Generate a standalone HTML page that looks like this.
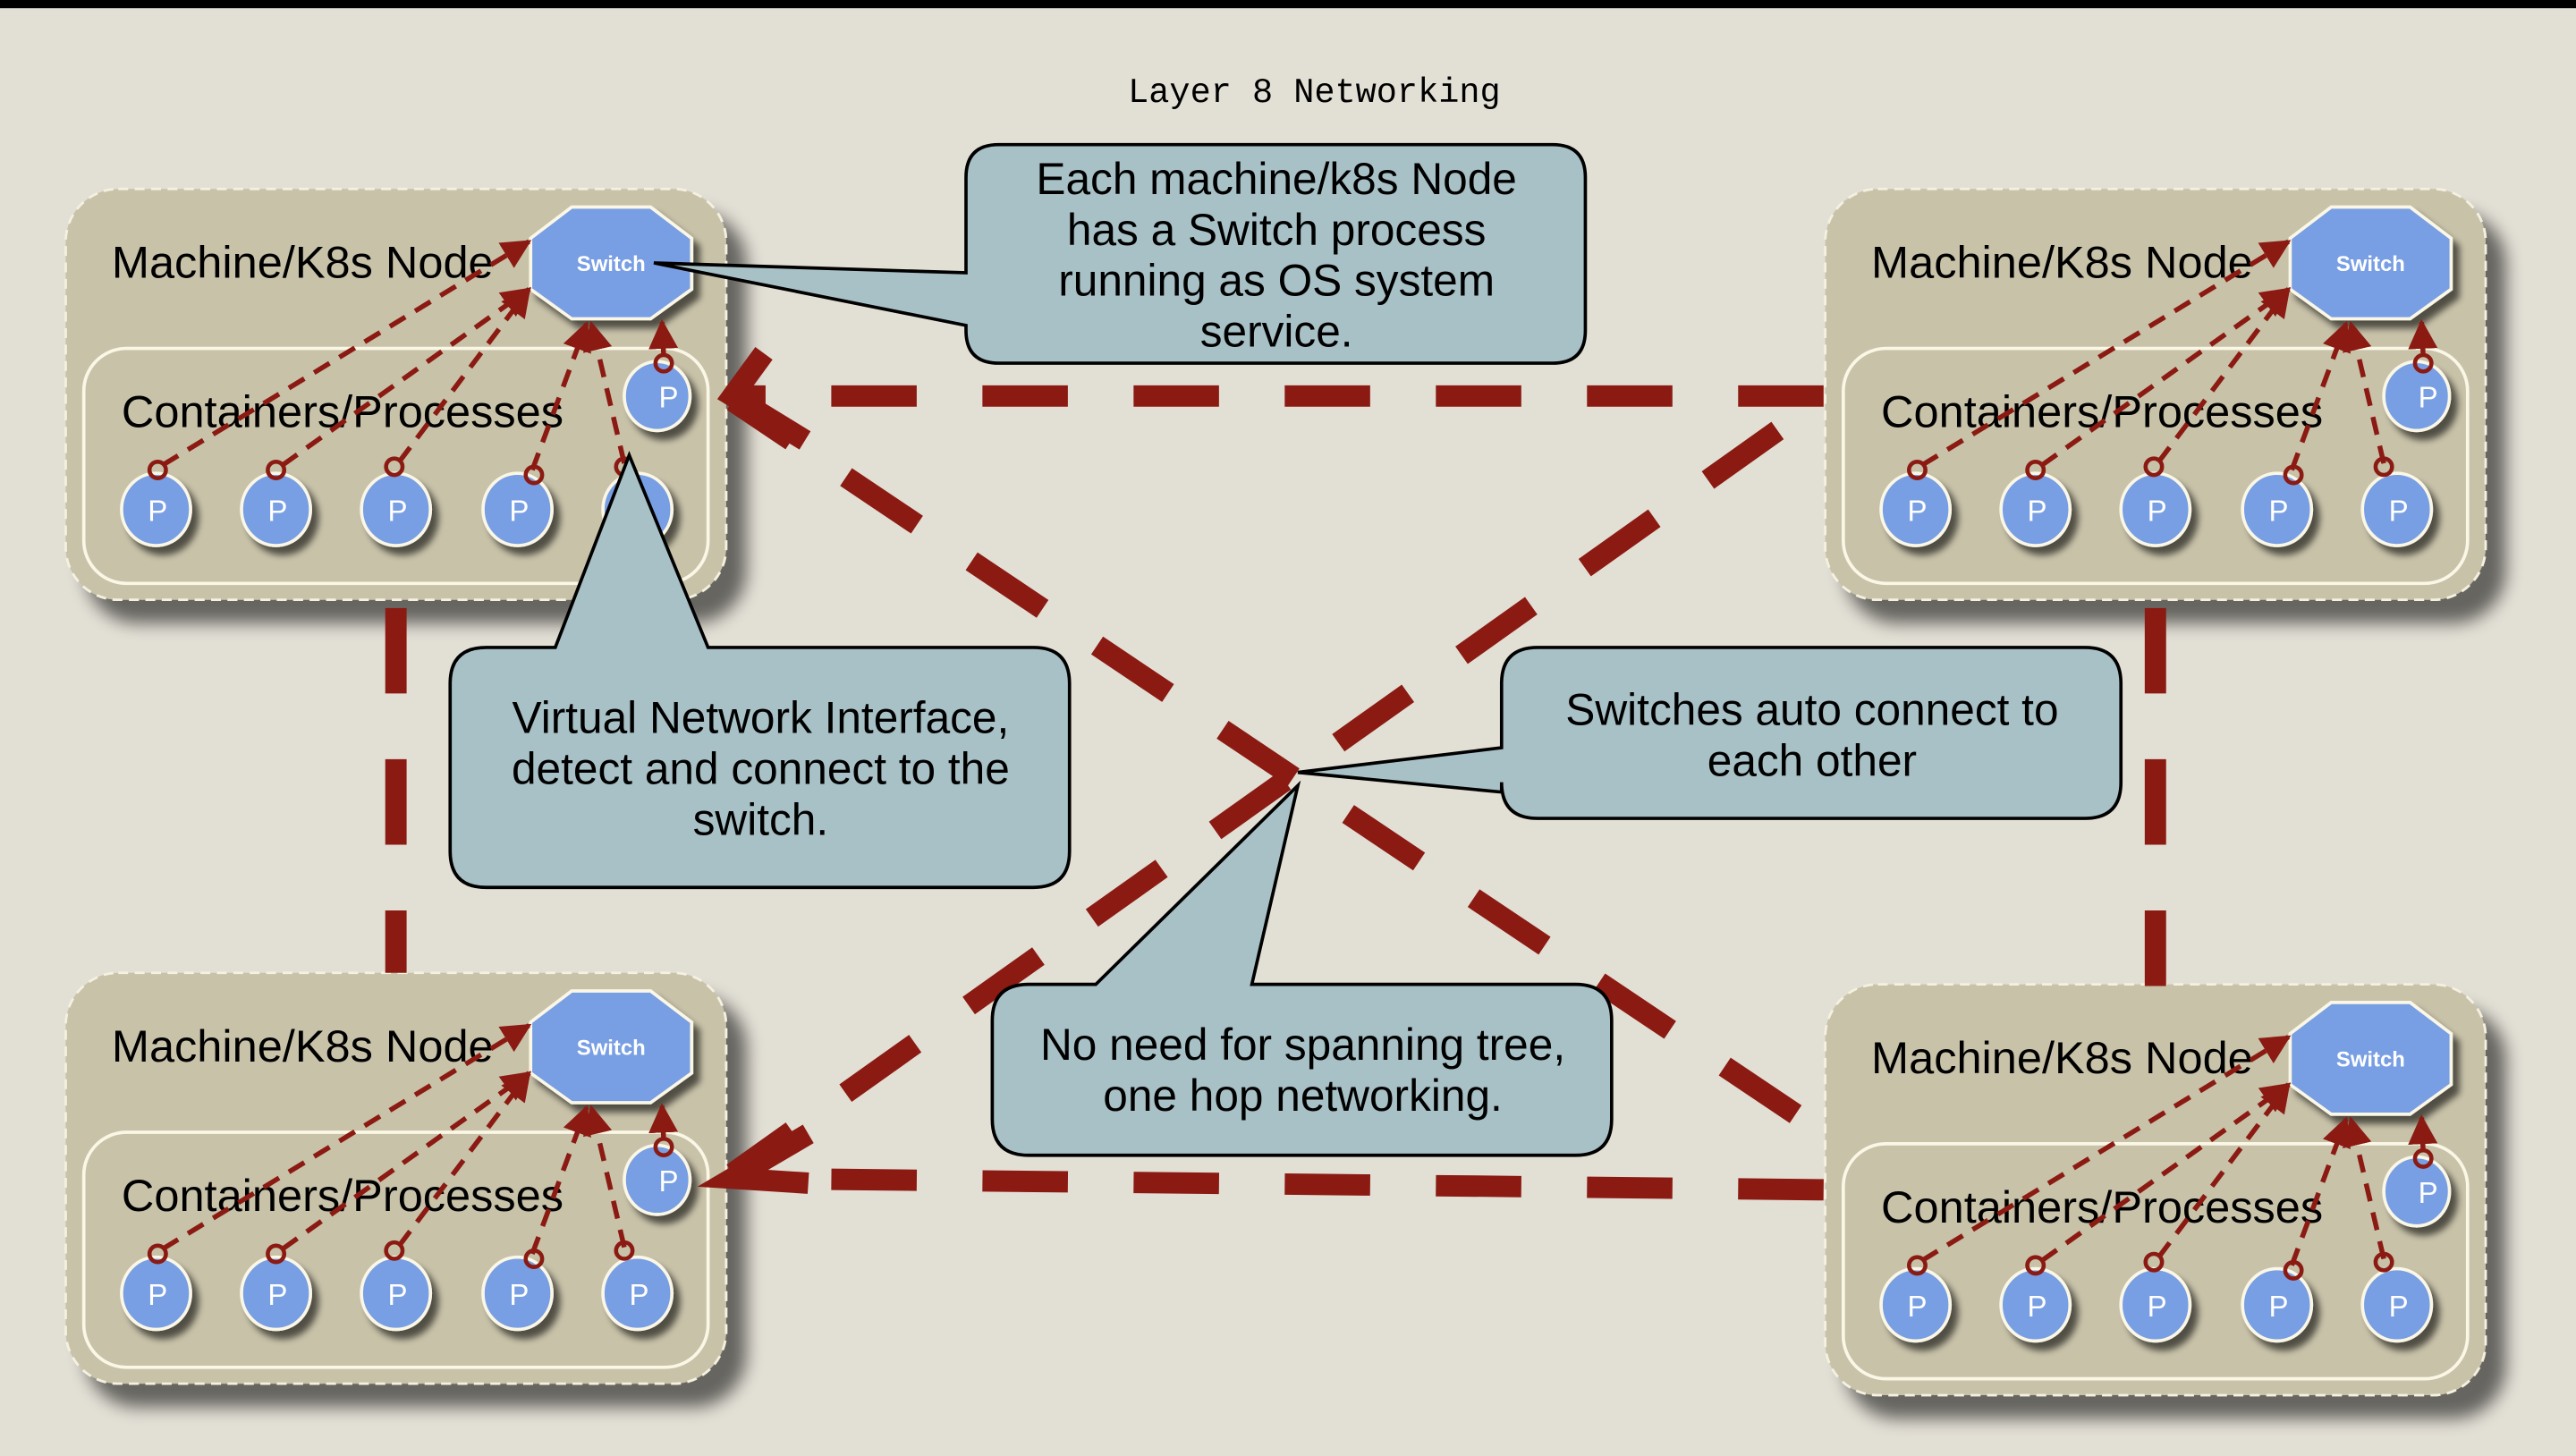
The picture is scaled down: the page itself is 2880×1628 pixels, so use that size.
<!DOCTYPE html>
<html><head><meta charset="utf-8"><style>
html,body{margin:0;padding:0;background:#e2dfd5;}
svg{display:block;}
text{font-family:"Liberation Sans",sans-serif;}
</style></head><body>
<svg width="2880" height="1628" viewBox="0 0 1568 886" preserveAspectRatio="none" xmlns="http://www.w3.org/2000/svg">
<defs>
<filter id="sh" x="-20%" y="-20%" width="150%" height="150%"><feGaussianBlur in="SourceAlpha" stdDeviation="5"/><feOffset dx="12" dy="14"/><feComponentTransfer><feFuncA type="linear" slope="0.55"/></feComponentTransfer><feMerge><feMergeNode/><feMergeNode in="SourceGraphic"/></feMerge></filter>
<filter id="sh2" x="-30%" y="-30%" width="170%" height="170%"><feGaussianBlur in="SourceAlpha" stdDeviation="2"/><feOffset dx="4" dy="5"/><feComponentTransfer><feFuncA type="linear" slope="0.6"/></feComponentTransfer><feMerge><feMergeNode/><feMergeNode in="SourceGraphic"/></feMerge></filter>
<marker id="ah" viewBox="0 0 10 10" refX="9" refY="5" markerWidth="6" markerHeight="6" orient="auto"><path d="M0,0 L10,5 L0,10 z" fill="#8b1a12"/></marker>
</defs>
<rect x="0" y="0" width="1568" height="886" fill="#e2dfd5"/>
<rect x="0" y="0" width="1568" height="5" fill="#000"/>
<text x="800" y="62" text-anchor="middle" font-size="21" style="font-family:'Liberation Mono',monospace">Layer 8 Networking</text>

<g>
<rect x="40" y="115" width="402" height="250" rx="32" fill="#c8c2a9" stroke="#f5f1e0" stroke-width="1.5" stroke-dasharray="6,4" filter="url(#sh)"/>
<rect x="51" y="212" width="380" height="143" rx="26" fill="#c8c2a9" stroke="#fbf7e6" stroke-width="2"/>
<text x="68" y="169" font-size="27.5">Machine/K8s Node</text>
<text x="74" y="260" font-size="27.5">Containers/Processes</text>
<g fill="#789ee3" stroke="#fbf7e6" stroke-width="2" filter="url(#sh2)">
<polygon points="348,126 396,126 421,145 421,176 396,194 348,194 323,176 323,145"/>
<ellipse cx="95" cy="310" rx="21" ry="22"/><ellipse cx="168" cy="310" rx="21" ry="22"/><ellipse cx="241" cy="310" rx="21" ry="22"/><ellipse cx="315" cy="310" rx="21" ry="22"/><ellipse cx="388" cy="310" rx="21" ry="22"/><ellipse cx="400" cy="241" rx="20" ry="21"/>
</g>
<text x="372" y="165" font-size="13" font-weight="bold" fill="#fff" text-anchor="middle">Switch</text>
<g font-size="18" fill="#fff" text-anchor="middle"><text x="96" y="317">P</text><text x="169" y="317">P</text><text x="242" y="317">P</text><text x="316" y="317">P</text><text x="389" y="317">P</text><text x="407" y="248">P</text></g>
<g stroke="#8b1a12" stroke-width="3" stroke-dasharray="11,7" fill="none" marker-end="url(#ah)">
<line x1="99" y1="283" x2="322" y2="147"/><line x1="172" y1="283" x2="322" y2="176"/><line x1="243" y1="281" x2="322" y2="176"/><line x1="324" y1="286" x2="357" y2="197"/><line x1="380" y1="282" x2="360" y2="197"/><line x1="404" y1="217" x2="403" y2="196"/>
</g>
<g fill="none" stroke="#8b1a12" stroke-width="2.5"><circle cx="96" cy="286" r="5"/><circle cx="168" cy="286" r="5"/><circle cx="240" cy="284" r="5"/><circle cx="325" cy="289" r="5"/><circle cx="380" cy="284" r="5"/><circle cx="404" cy="221" r="5"/></g>
</g>

<g transform="translate(1071,0)">
<rect x="40" y="115" width="402" height="250" rx="32" fill="#c8c2a9" stroke="#f5f1e0" stroke-width="1.5" stroke-dasharray="6,4" filter="url(#sh)"/>
<rect x="51" y="212" width="380" height="143" rx="26" fill="#c8c2a9" stroke="#fbf7e6" stroke-width="2"/>
<text x="68" y="169" font-size="27.5">Machine/K8s Node</text>
<text x="74" y="260" font-size="27.5">Containers/Processes</text>
<g fill="#789ee3" stroke="#fbf7e6" stroke-width="2" filter="url(#sh2)">
<polygon points="348,126 396,126 421,145 421,176 396,194 348,194 323,176 323,145"/>
<ellipse cx="95" cy="310" rx="21" ry="22"/><ellipse cx="168" cy="310" rx="21" ry="22"/><ellipse cx="241" cy="310" rx="21" ry="22"/><ellipse cx="315" cy="310" rx="21" ry="22"/><ellipse cx="388" cy="310" rx="21" ry="22"/><ellipse cx="400" cy="241" rx="20" ry="21"/>
</g>
<text x="372" y="165" font-size="13" font-weight="bold" fill="#fff" text-anchor="middle">Switch</text>
<g font-size="18" fill="#fff" text-anchor="middle"><text x="96" y="317">P</text><text x="169" y="317">P</text><text x="242" y="317">P</text><text x="316" y="317">P</text><text x="389" y="317">P</text><text x="407" y="248">P</text></g>
<g stroke="#8b1a12" stroke-width="3" stroke-dasharray="11,7" fill="none" marker-end="url(#ah)">
<line x1="99" y1="283" x2="322" y2="147"/><line x1="172" y1="283" x2="322" y2="176"/><line x1="243" y1="281" x2="322" y2="176"/><line x1="324" y1="286" x2="357" y2="197"/><line x1="380" y1="282" x2="360" y2="197"/><line x1="404" y1="217" x2="403" y2="196"/>
</g>
<g fill="none" stroke="#8b1a12" stroke-width="2.5"><circle cx="96" cy="286" r="5"/><circle cx="168" cy="286" r="5"/><circle cx="240" cy="284" r="5"/><circle cx="325" cy="289" r="5"/><circle cx="380" cy="284" r="5"/><circle cx="404" cy="221" r="5"/></g>
</g>

<g transform="translate(0,477)">
<rect x="40" y="115" width="402" height="250" rx="32" fill="#c8c2a9" stroke="#f5f1e0" stroke-width="1.5" stroke-dasharray="6,4" filter="url(#sh)"/>
<rect x="51" y="212" width="380" height="143" rx="26" fill="#c8c2a9" stroke="#fbf7e6" stroke-width="2"/>
<text x="68" y="169" font-size="27.5">Machine/K8s Node</text>
<text x="74" y="260" font-size="27.5">Containers/Processes</text>
<g fill="#789ee3" stroke="#fbf7e6" stroke-width="2" filter="url(#sh2)">
<polygon points="348,126 396,126 421,145 421,176 396,194 348,194 323,176 323,145"/>
<ellipse cx="95" cy="310" rx="21" ry="22"/><ellipse cx="168" cy="310" rx="21" ry="22"/><ellipse cx="241" cy="310" rx="21" ry="22"/><ellipse cx="315" cy="310" rx="21" ry="22"/><ellipse cx="388" cy="310" rx="21" ry="22"/><ellipse cx="400" cy="241" rx="20" ry="21"/>
</g>
<text x="372" y="165" font-size="13" font-weight="bold" fill="#fff" text-anchor="middle">Switch</text>
<g font-size="18" fill="#fff" text-anchor="middle"><text x="96" y="317">P</text><text x="169" y="317">P</text><text x="242" y="317">P</text><text x="316" y="317">P</text><text x="389" y="317">P</text><text x="407" y="248">P</text></g>
<g stroke="#8b1a12" stroke-width="3" stroke-dasharray="11,7" fill="none" marker-end="url(#ah)">
<line x1="99" y1="283" x2="322" y2="147"/><line x1="172" y1="283" x2="322" y2="176"/><line x1="243" y1="281" x2="322" y2="176"/><line x1="324" y1="286" x2="357" y2="197"/><line x1="380" y1="282" x2="360" y2="197"/><line x1="404" y1="217" x2="403" y2="196"/>
</g>
<g fill="none" stroke="#8b1a12" stroke-width="2.5"><circle cx="96" cy="286" r="5"/><circle cx="168" cy="286" r="5"/><circle cx="240" cy="284" r="5"/><circle cx="325" cy="289" r="5"/><circle cx="380" cy="284" r="5"/><circle cx="404" cy="221" r="5"/></g>
</g>

<g transform="translate(1071,484)">
<rect x="40" y="115" width="402" height="250" rx="32" fill="#c8c2a9" stroke="#f5f1e0" stroke-width="1.5" stroke-dasharray="6,4" filter="url(#sh)"/>
<rect x="51" y="212" width="380" height="143" rx="26" fill="#c8c2a9" stroke="#fbf7e6" stroke-width="2"/>
<text x="68" y="169" font-size="27.5">Machine/K8s Node</text>
<text x="74" y="260" font-size="27.5">Containers/Processes</text>
<g fill="#789ee3" stroke="#fbf7e6" stroke-width="2" filter="url(#sh2)">
<polygon points="348,126 396,126 421,145 421,176 396,194 348,194 323,176 323,145"/>
<ellipse cx="95" cy="310" rx="21" ry="22"/><ellipse cx="168" cy="310" rx="21" ry="22"/><ellipse cx="241" cy="310" rx="21" ry="22"/><ellipse cx="315" cy="310" rx="21" ry="22"/><ellipse cx="388" cy="310" rx="21" ry="22"/><ellipse cx="400" cy="241" rx="20" ry="21"/>
</g>
<text x="372" y="165" font-size="13" font-weight="bold" fill="#fff" text-anchor="middle">Switch</text>
<g font-size="18" fill="#fff" text-anchor="middle"><text x="96" y="317">P</text><text x="169" y="317">P</text><text x="242" y="317">P</text><text x="316" y="317">P</text><text x="389" y="317">P</text><text x="407" y="248">P</text></g>
<g stroke="#8b1a12" stroke-width="3" stroke-dasharray="11,7" fill="none" marker-end="url(#ah)">
<line x1="99" y1="283" x2="322" y2="147"/><line x1="172" y1="283" x2="322" y2="176"/><line x1="243" y1="281" x2="322" y2="176"/><line x1="324" y1="286" x2="357" y2="197"/><line x1="380" y1="282" x2="360" y2="197"/><line x1="404" y1="217" x2="403" y2="196"/>
</g>
<g fill="none" stroke="#8b1a12" stroke-width="2.5"><circle cx="96" cy="286" r="5"/><circle cx="168" cy="286" r="5"/><circle cx="240" cy="284" r="5"/><circle cx="325" cy="289" r="5"/><circle cx="380" cy="284" r="5"/><circle cx="404" cy="221" r="5"/></g>
</g>

<g stroke="#8b1a12" stroke-width="13" fill="none">
<line x1="1110" y1="241" x2="446" y2="241" stroke-dasharray="52,40"/>
<line x1="241" y1="370" x2="241" y2="592" stroke-dasharray="52,40"/>
<line x1="1312" y1="370" x2="1312" y2="600" stroke-dasharray="52,40"/>
<line x1="1110" y1="724" x2="446" y2="717" stroke-dasharray="52,40"/>
<line x1="1093" y1="678" x2="446" y2="244" stroke-dasharray="52,40"/>
<line x1="1082" y1="262" x2="446" y2="714" stroke-dasharray="52,40"/>
<polyline points="492,690 446,717 492,720"/>
<polyline points="465,215 446,241 490,268"/>
</g>

<g fill="#a8c1c6" stroke="#000" stroke-width="2">
<path d="M608,88 H945 Q965,88 965,108 V201 Q965,221 945,221 H608 Q588,221 588,201 V198 L398,160 L588,166 V108 Q588,88 608,88 Z"/>
<path d="M296,394 H338 L383,277 L431,394 H629 Q651,394 651,416 V518 Q651,540 629,540 H296 Q274,540 274,518 V416 Q274,394 296,394 Z"/>
<path d="M936,394 H1269 Q1291,394 1291,416 V476 Q1291,498 1269,498 H936 Q914,498 914,476 V482 L790,470 L914,455 V416 Q914,394 936,394 Z"/>
<path d="M626,599 H667 L790,478 L762,599 H959 Q981,599 981,621 V681 Q981,703 959,703 H626 Q604,703 604,681 V621 Q604,599 626,599 Z"/>
</g>
<g font-size="27" text-anchor="middle">
<text x="777" y="118">Each machine/k8s Node</text>
<text x="777" y="149">has a Switch process</text>
<text x="777" y="180">running as OS system</text>
<text x="777" y="211">service.</text>
<text x="463" y="446">Virtual Network Interface,</text>
<text x="463" y="477">detect and connect to the</text>
<text x="463" y="508">switch.</text>
<text x="1103" y="441">Switches auto connect to</text>
<text x="1103" y="472">each other</text>
<text x="793" y="645">No need for spanning tree,</text>
<text x="793" y="676">one hop networking.</text>
</g>
</svg>
</body></html>
